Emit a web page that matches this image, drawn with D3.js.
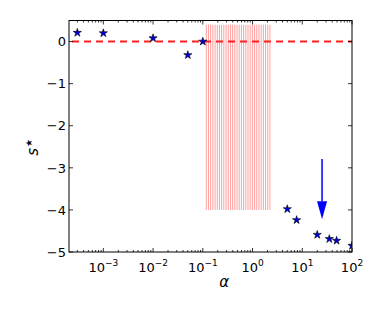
<!DOCTYPE html>
<html><head><meta charset="utf-8">
<script src="https://cdn.jsdelivr.net/npm/d3@7"></script>
<style>body{margin:0;background:#fff}svg{display:block}text{font-family:"DejaVu Sans",sans-serif}</style>
</head><body><svg id="c" width="382" height="312"></svg>
<script>
const alphaVals = [0.0003, 0.001, 0.01, 0.05, 0.1, 5, 7.7, 20, 35, 49, 100];
const sVals     = [0.21, 0.20, 0.08, -0.32, 0.0, -3.98, -4.24, -4.59, -4.69, -4.73, -4.85];
const bandAlphas = [0.1175,0.130,0.1439,0.1592,0.1766,0.1954,0.2163,0.2393,0.2649,0.2938,0.3251,0.3597,0.3981,0.4406,0.4875,0.5395,0.597,0.6607,0.7328,0.811,0.8974,0.9931,1.099,1.216,1.349,1.493,1.652,1.828,2.023,2.239];
const bandRange = [-4, 0.4];
const arrowX = 25, arrowFrom = -2.79, arrowTo = -4.22;
const xTickVals = [1e-3, 1e-2, 1e-1, 1, 10, 100];
const xTickExp = ["-3","-2","-1","0","1","2"];
const yTickVals = [0, -1, -2, -3, -4, -5];

const L=69, R=352, T=20.5, B=252;
const svg = d3.select("#c");
const x = d3.scaleLog().domain([2.04e-4, 100]).range([L, R]);
const y = d3.scaleLinear().domain([-5, 0.5]).range([B, T]);

svg.append("defs").append("clipPath").attr("id","clip").append("rect")
  .attr("x",L).attr("y",T).attr("width",R-L).attr("height",B-T);
const g = svg.append("g").attr("clip-path","url(#clip)");

g.selectAll("line.band").data(bandAlphas).join("line")
  .attr("x1",d=>x(d)).attr("x2",d=>x(d))
  .attr("y1",y(bandRange[0])).attr("y2",y(bandRange[1]))
  .attr("stroke","#ff0000").attr("stroke-opacity",0.38).attr("stroke-width",1);

g.append("line").attr("x1",L).attr("x2",R).attr("y1",y(0)).attr("y2",y(0))
  .attr("stroke","#ff2020").attr("stroke-width",2).attr("stroke-dasharray","7,5")
  .attr("stroke-dashoffset",-3);

const ax = x(arrowX);
const headLen = 18, headW = 5;
g.append("line").attr("x1",ax).attr("x2",ax).attr("y1",y(arrowFrom)).attr("y2",y(arrowTo)-headLen)
  .attr("stroke","#0000ff").attr("stroke-width",1.5);
g.append("path").attr("d",`M${ax-headW},${y(arrowTo)-headLen}L${ax+headW},${y(arrowTo)-headLen}L${ax},${y(arrowTo)}Z`)
  .attr("fill","#0000ff");

const star = d3.symbol().type(d3.symbolStar).size(21);
g.selectAll("path.pt").data(alphaVals.map((a,i)=>[a,sVals[i]])).join("path")
  .attr("transform",d=>`translate(${x(d[0])},${y(d[1])})`)
  .attr("d",star).attr("fill","#0000dd").attr("stroke","#000").attr("stroke-width",0.6);

svg.append("rect").attr("x",L).attr("y",T).attr("width",R-L).attr("height",B-T)
  .attr("fill","none").attr("stroke","#000").attr("stroke-width",1);

const minor = [];
for (let e=-4;e<=1;e++) for (let m=2;m<=9;m++){const v=m*Math.pow(10,e); if(v>=2.04e-4&&v<=100) minor.push(v);}
const tk = svg.append("g").attr("stroke","#000").attr("stroke-width",0.8);
xTickVals.forEach(v=>{
  tk.append("line").attr("x1",x(v)).attr("x2",x(v)).attr("y1",B).attr("y2",B-4);
  tk.append("line").attr("x1",x(v)).attr("x2",x(v)).attr("y1",T).attr("y2",T+4);
});
minor.forEach(v=>{
  tk.append("line").attr("x1",x(v)).attr("x2",x(v)).attr("y1",B).attr("y2",B-2);
  tk.append("line").attr("x1",x(v)).attr("x2",x(v)).attr("y1",T).attr("y2",T+2);
});
yTickVals.forEach(v=>{
  tk.append("line").attr("x1",L).attr("x2",L+4).attr("y1",y(v)).attr("y2",y(v));
  tk.append("line").attr("x1",R).attr("x2",R-4).attr("y1",y(v)).attr("y2",y(v));
});

xTickVals.forEach((v,i)=>{
  const t = svg.append("text").attr("x",x(v)).attr("y",272).attr("text-anchor","middle")
    .attr("font-size",13).attr("fill","#000");
  t.append("tspan").text("10");
  t.append("tspan").attr("dy",-6).attr("font-size",9).text(xTickExp[i].replace("-","\u2212"));
});
yTickVals.forEach(v=>{
  svg.append("text").attr("x",L-3).attr("y",y(v)+4.7).attr("text-anchor","end")
    .attr("font-size",13).attr("fill","#000").text(v<0?"\u2212"+Math.abs(v):String(v));
});

svg.append("text").attr("x",x(0.27)).attr("y",287).attr("text-anchor","middle")
  .attr("font-size",15).attr("font-style","italic").text("α");
const yl = svg.append("text").attr("transform",`translate(38,${(T+B)/2+11}) rotate(-90)`)
  .attr("text-anchor","middle").attr("font-size",15);
yl.append("tspan").attr("font-style","italic").text("s");
yl.append("tspan").attr("dy",-6).attr("dx",1).attr("font-size",9).text("★");
</script></body></html>
